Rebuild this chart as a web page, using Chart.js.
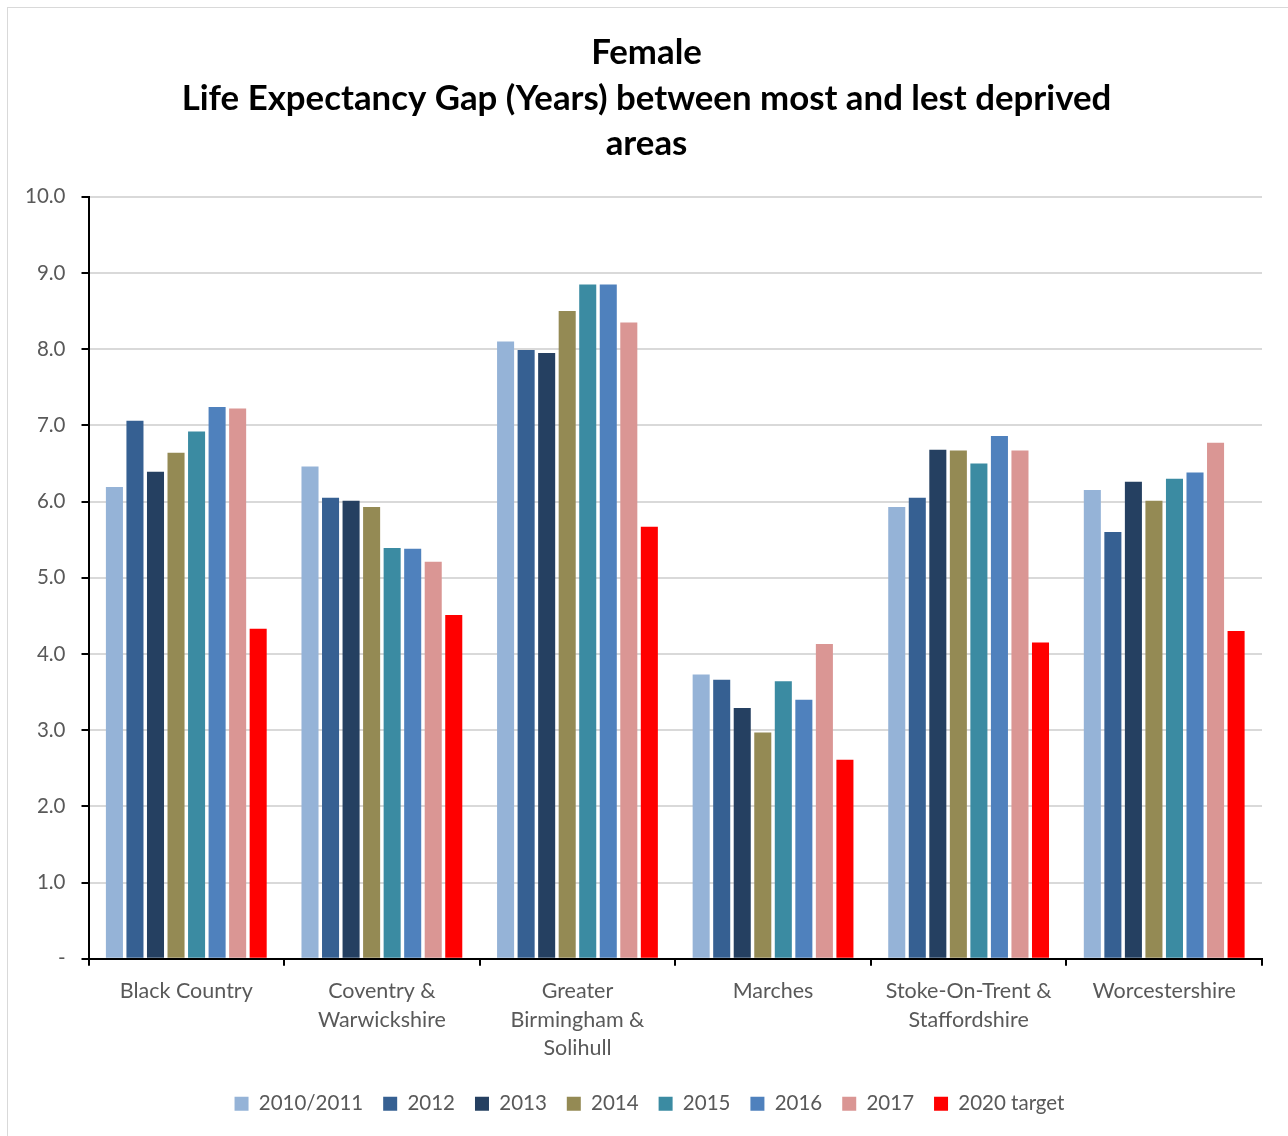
<!DOCTYPE html>
<html><head><meta charset="utf-8">
<script src="https://cdn.jsdelivr.net/npm/chart.js@4.4.1/dist/chart.umd.min.js"></script>
<style>
html,body{margin:0;padding:0;background:#fff;}
#wrap{position:absolute;left:0;top:0;width:1288px;height:1136px;}
#frame{position:absolute;left:7px;top:7px;width:1300px;height:1200px;border:1px solid #d9d9d9;}
canvas{position:absolute;left:0;top:0;}
</style></head>
<body>
<div id="wrap"><div id="frame"></div><canvas id="c" width="1288" height="1136"></canvas></div>
<script>
const categories = [
  ["Black Country"],
  ["Coventry &", "Warwickshire"],
  ["Greater", "Birmingham &", "Solihull"],
  ["Marches"],
  ["Stoke-On-Trent &", "Staffordshire"],
  ["Worcestershire"]
];
const seriesNames = ["2010/2011","2012","2013","2014","2015","2016","2017","2020 target"];
const v2010 = [6.19, 6.46, 8.10, 3.73, 5.93, 6.15];
const v2012 = [7.06, 6.05, 7.99, 3.66, 6.05, 5.60];
const v2013 = [6.39, 6.01, 7.95, 3.29, 6.68, 6.26];
const v2014 = [6.64, 5.93, 8.50, 2.97, 6.67, 6.01];
const v2015 = [6.92, 5.39, 8.85, 3.64, 6.50, 6.30];
const v2016 = [7.24, 5.38, 8.85, 3.40, 6.86, 6.38];
const v2017 = [7.22, 5.21, 8.35, 4.13, 6.67, 6.77];
const vTarget = [4.33, 4.51, 5.67, 2.61, 4.15, 4.30];
const colors = ["#95b3d7","#366092","#254061","#948a54","#3b8ba2","#4f81bd","#da9694","#ff0000"];
const allValues = [v2010, v2012, v2013, v2014, v2015, v2016, v2017, vTarget];

const FONT = "Lato, 'Open Sans', sans-serif";
const grey = "#595959";

const shiftPlugin = {
  id: 'shiftBlocks',
  afterLayout(chart) {
    if (chart.titleBlock) { chart.titleBlock.left += 11; chart.titleBlock.right += 11; }
    if (chart.legend) { chart.legend.left += 14; chart.legend.right += 14; }
  }
};

new Chart(document.getElementById('c'), {
  type: 'bar',
  data: {
    labels: categories,
    datasets: seriesNames.map((n, i) => ({
      label: n,
      data: allValues[i],
      backgroundColor: colors[i],
      borderWidth: 0,
      categoryPercentage: 0.84,
      barPercentage: 0.83
    }))
  },
  options: {
    responsive: false,
    animation: false,
    devicePixelRatio: 1,
    layout: { padding: { left: 9, right: 26, top: 20, bottom: 12 } },
    plugins: {
      title: {
        display: true,
        text: ["Female", "Life Expectancy Gap (Years) between most and lest deprived", "areas"],
        color: "#000",
        font: { family: FONT, size: 34.8, weight: 'bold', lineHeight: 1.31 },
        padding: { top: 10, bottom: 30 }
      },
      legend: {
        position: 'bottom',
        labels: {
          color: grey,
          font: { family: FONT, size: 20.5 },
          boxWidth: 14, boxHeight: 14,
          padding: 20
        }
      },
      tooltip: { enabled: false }
    },
    scales: {
      y: {
        min: 0, max: 10,
        ticks: {
          stepSize: 1,
          color: grey,
          font: { family: FONT, size: 20.5 },
          padding: 16,
          callback: v => v === 0 ? '-' : v.toFixed(1)
        },
        grid: { color: "#d9d9d9", lineWidth: 2, tickColor: "#000", tickLength: 7, drawTicks: true },
        border: { color: "#000", width: 2 }
      },
      x: {
        ticks: {
          color: grey,
          font: { family: FONT, size: 21.5, lineHeight: 1.33 },
          padding: 11,
          maxRotation: 0,
          autoSkip: false
        },
        grid: { drawOnChartArea: false, drawTicks: true, tickColor: "#000", tickLength: 7, lineWidth: 2, offset: true },
        border: { color: "#000", width: 2 }
      }
    }
  },
  plugins: [shiftPlugin]
});
</script>
</body></html>
